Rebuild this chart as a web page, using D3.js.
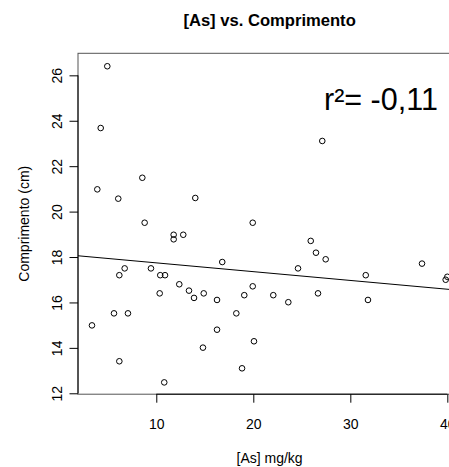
<!DOCTYPE html>
<html>
<head>
<meta charset="utf-8">
<script src="https://cdn.jsdelivr.net/npm/d3@7"></script>
<style>
  body { margin: 0; background: #fff; }
  svg { display: block; font-family: "Liberation Sans", Arial, Helvetica, sans-serif; }
</style>
</head>
<body>
<svg id="chart" width="449" height="467"></svg>
<script>
// [As] mg/kg values
const arsenic = [4.95, 4.27, 3.92, 8.56, 6.08, 8.80, 14.02, 19.94, 27.11, 3.37,
  6.19, 6.74, 5.64, 7.08, 6.19, 9.45, 10.41, 10.90, 10.35, 11.79,
  11.79, 12.78, 12.37, 13.37, 13.89, 14.89, 16.26, 16.80, 18.25, 19.94,
  19.07, 16.26, 14.81, 20.07, 18.84, 10.82, 22.06, 23.61, 24.61, 25.92,
  26.46, 27.46, 26.67, 31.59, 31.82, 37.39, 39.83, 40.00];
// Comprimento (cm)
const comprimento = [26.40, 23.68, 20.98, 21.49, 20.57, 19.51, 20.60, 19.51, 23.11, 14.99,
  17.20, 17.50, 15.52, 15.52, 13.41, 17.50, 17.20, 17.20, 16.40, 18.98,
  18.78, 18.98, 16.80, 16.52, 16.20, 16.40, 16.11, 17.78, 15.52, 16.71,
  16.32, 14.80, 14.01, 14.29, 13.10, 12.48, 16.32, 16.01, 17.50, 18.71,
  18.19, 17.90, 16.40, 17.20, 16.11, 17.71, 17.00, 17.13];
const xTicks = [10, 20, 30, 40];
const yTicks = [12, 14, 16, 18, 20, 22, 24, 26];
// fitted line
const fitIntercept = 18.13;
const fitSlope = -0.0387;
const titleText = "[As] vs. Comprimento";
const xLabel = "[As] mg/kg";
const yLabel = "Comprimento (cm)";
const r2Label = "r\u00B2= -0,11";

const svg = d3.select("#chart");
const pL = 78, pR = 461.2, pT = 53.3, pB = 394.2;
const x = d3.scaleLinear().domain([1.93, 41.43]).range([pL, pR]);
const y = d3.scaleLinear().domain([11.96, 26.97]).range([pB, pT]);

svg.append("defs").append("clipPath").attr("id", "plotclip")
  .append("rect").attr("x", pL).attr("y", pT).attr("width", pR - pL).attr("height", pB - pT);

// box
svg.append("rect").attr("x", pL).attr("y", pT).attr("width", pR - pL).attr("height", pB - pT)
  .attr("fill", "none").attr("stroke", "#555").attr("stroke-width", 1);

// x axis
const xAxis = d3.axisBottom(x).tickValues(xTicks).tickSize(8.5).tickPadding(16).tickFormat(d3.format("d"));
const gx = svg.append("g").attr("transform", `translate(0,${pB})`).call(xAxis);
gx.select(".domain").remove();
gx.append("line").attr("x1", x(xTicks[0])).attr("x2", x(xTicks[xTicks.length - 1]))
  .attr("stroke", "#000");
gx.selectAll("text").attr("font-size", 14).attr("fill", "#000").attr("font-family", null);
gx.selectAll(".tick line").attr("stroke", "#000");

// y axis
const yAxis = d3.axisLeft(y).tickValues(yTicks).tickSize(8.5).tickFormat(d3.format("d"));
const gy = svg.append("g").attr("transform", `translate(${pL},0)`).call(yAxis);
gy.select(".domain").remove();
gy.append("line").attr("y1", y(yTicks[0])).attr("y2", y(yTicks[yTicks.length - 1]))
  .attr("stroke", "#000");
gy.selectAll(".tick line").attr("stroke", "#000");
gy.selectAll("text")
  .attr("font-size", 14).attr("fill", "#000").attr("font-family", null)
  .attr("x", null).attr("dy", null)
  .attr("text-anchor", "middle")
  .attr("transform", "translate(-16,0) rotate(-90)");

// points
svg.append("g").selectAll("circle").data(arsenic.map((a, i) => [a, comprimento[i]]))
  .join("circle")
  .attr("cx", d => x(d[0])).attr("cy", d => y(d[1])).attr("r", 2.8)
  .attr("fill", "none").attr("stroke", "#000").attr("stroke-width", 1);

// fit line
const xd = x.domain();
svg.append("line").attr("clip-path", "url(#plotclip)")
  .attr("x1", x(xd[0])).attr("y1", y(fitIntercept + fitSlope * xd[0]))
  .attr("x2", x(xd[1])).attr("y2", y(fitIntercept + fitSlope * xd[1]))
  .attr("stroke", "#000").attr("stroke-width", 1);

// r2 label
svg.append("text").attr("x", 324).attr("y", 110).attr("font-size", 30.5).attr("fill", "#000").text(r2Label);

// title
svg.append("text").attr("x", (pL + pR) / 2).attr("y", 26).attr("text-anchor", "middle")
  .attr("font-size", 16.6).attr("font-weight", "bold").text(titleText);

// x label
svg.append("text").attr("x", (pL + pR) / 2).attr("y", 463).attr("text-anchor", "middle")
  .attr("font-size", 14).text(xLabel);

// y label
svg.append("text").attr("transform", `translate(28.5,${(pT + pB) / 2}) rotate(-90)`).attr("text-anchor", "middle")
  .attr("font-size", 14).text(yLabel);
</script>
</body>
</html>
